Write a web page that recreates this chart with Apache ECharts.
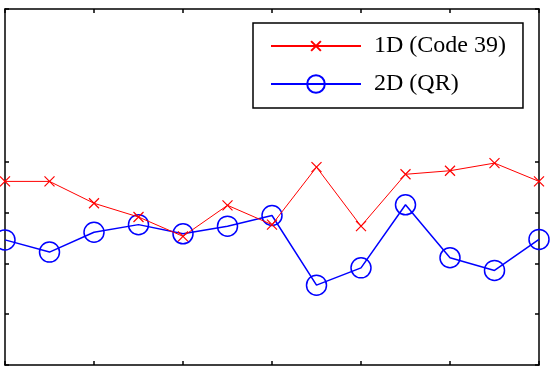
<!DOCTYPE html>
<html>
<head>
<meta charset="utf-8">
<script src="https://cdn.jsdelivr.net/npm/echarts@6/dist/echarts.min.js"></script>
<style>
  html, body { margin: 0; padding: 0; background: #fff; }
  #chart { width: 554px; height: 370px; }
</style>
</head>
<body>
<div id="chart"></div>
<script>
// data (no tick labels shown, units are tick steps)
let xValues = [0, 1, 2, 3, 4, 5, 6, 7, 8, 9, 10, 11, 12]
let code39 = [3.61, 3.61, 3.18, 2.91, 2.53, 3.14, 2.76, 3.89, 2.73, 3.75, 3.82, 3.97, 3.61]
let qr = [2.46, 2.22, 2.61, 2.76, 2.58, 2.73, 2.94, 1.57, 1.91, 3.15, 2.11, 1.86, 2.47]
let yTicks = [0, 1, 2, 3, 4, 7]
let seriesNames = ['1D (Code 39)', '2D (QR)']

// cross with an empty margin, so it stays small next to the circles (also in the legend)
let crossPath = 'path://M-4,-4M0,0L10,10M10,0L0,10M14,14'

function pairs (ys) {
  return xValues.map((x, i) => [x, ys[i]])
}

let xBase = {
  type: 'value',
  min: 0,
  max: 12,
  interval: 2,
  axisLine: { show: true, onZero: false, lineStyle: { color: '#000', width: 1.5 } },
  axisTick: { show: true, inside: true, length: 4, lineStyle: { color: '#000', width: 1.5 } },
  axisLabel: { show: false },
  splitLine: { show: false }
}
let yBase = {
  type: 'value',
  min: 0,
  max: 7,
  interval: 1,
  axisLine: { show: true, onZero: false, lineStyle: { color: '#000', width: 1.5 } },
  axisTick: { show: true, inside: true, length: 4, customValues: yTicks, lineStyle: { color: '#000', width: 1.5 } },
  axisLabel: { show: false },
  splitLine: { show: false }
}

let myChart = echarts.init(document.getElementById('chart'), null, { renderer: 'canvas' })
myChart.setOption({
  backgroundColor: '#fff',
  animation: false,
  grid: { left: 5, right: 15, top: 9, bottom: 5 },
  legend: {
    left: 253,
    top: 23,
    orient: 'vertical',
    padding: [7, 17, 8, 17],
    itemGap: 6,
    itemWidth: 90,
    itemHeight: 22,
    backgroundColor: '#fff',
    borderColor: '#000',
    borderWidth: 1.5,
    borderRadius: 0,
    textStyle: { fontFamily: 'Liberation Serif', fontSize: 24, lineHeight: 24, color: '#000', padding: [8, 0, 0, 8] },
    data: seriesNames
  },
  xAxis: [
    Object.assign({}, xBase, { position: 'bottom' }),
    Object.assign({}, xBase, { position: 'top' })
  ],
  yAxis: [
    Object.assign({}, yBase, { position: 'left' }),
    Object.assign({}, yBase, { position: 'right' })
  ],
  series: [
    {
      name: seriesNames[0],
      type: 'line',
      data: pairs(code39),
      symbol: crossPath,
      symbolSize: 18,
      clip: false,
      lineStyle: { color: '#ff0000', width: 1 },
      itemStyle: { color: 'rgba(0,0,0,0)', borderColor: '#ff0000', borderWidth: 1.2 },
      z: 3
    },
    {
      name: seriesNames[1],
      type: 'line',
      data: pairs(qr),
      symbol: 'circle',
      symbolSize: 20,
      showAllSymbol: true,
      clip: false,
      lineStyle: { color: '#0000ff', width: 1.5 },
      itemStyle: { color: 'rgba(0,0,0,0)', borderColor: '#0000ff', borderWidth: 1.5 },
      z: 2
    }
  ]
})
</script>
</body>
</html>
